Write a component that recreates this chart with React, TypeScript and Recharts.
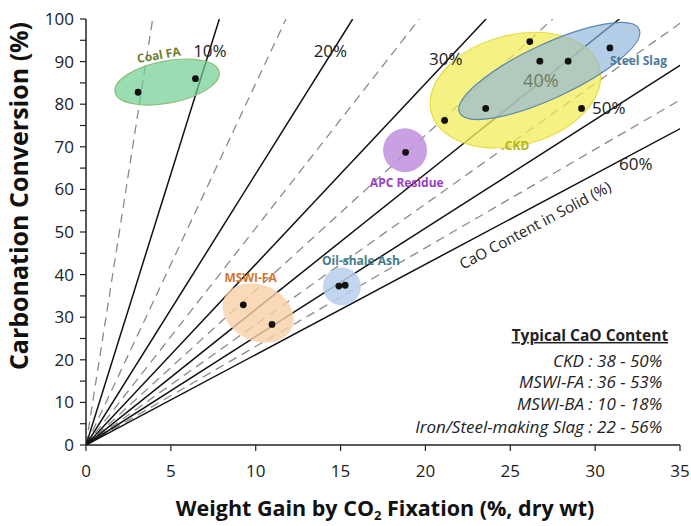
import React from 'react';
import { ComposedChart, Scatter, XAxis, YAxis, ReferenceLine, ReferenceDot } from 'recharts';

// axis ticks
const X_TICKS = [0, 5, 10, 15, 20, 25, 30, 35];
const X_MINOR = [2.5, 7.5, 12.5, 17.5, 22.5, 27.5, 32.5];
const X_ALL = [0, 2.5, 5, 7.5, 10, 12.5, 15, 17.5, 20, 22.5, 25, 27.5, 30, 32.5, 35];
const Y_TICKS = [0, 5, 10, 15, 20, 25, 30, 35, 40, 45, 50, 55, 60, 65, 70, 75, 80, 85, 90, 95, 100];

// CaO content lines (weight gain = CaO * conversion * 44/56)
const CAO_SOLID = [10, 20, 30, 40, 50, 60];
const CAO_DASHED = [5, 15, 25, 35, 45, 55];
const CO2_PER_CAO = 44 / 56;

// measured points
const coalFA = [{ x: 3.07, y: 82.8 }, { x: 6.45, y: 86.0 }];
const ckd = [
  { x: 21.13, y: 76.2 }, { x: 23.55, y: 79.0 }, { x: 26.15, y: 94.7 },
  { x: 26.74, y: 90.1 }, { x: 28.41, y: 90.1 }, { x: 29.2, y: 79.0 },
];
const steelSlag = [{ x: 30.87, y: 93.2 }];
const apcResidue = [{ x: 18.83, y: 68.7 }];
const mswiFA = [{ x: 9.27, y: 32.9 }, { x: 10.96, y: 28.3 }];
const oilShale = [{ x: 14.9, y: 37.3 }, { x: 15.27, y: 37.5 }];

// group regions (centres)
const coalCenter = [{ x: 4.78, y: 85.2 }];
const ckdCenter = [{ x: 25.3, y: 83.3 }];
const steelCenter = [{ x: 27.3, y: 87.8 }];
const apcCenter = [{ x: 18.8, y: 69.2 }];
const mswiCenter = [{ x: 10.14, y: 31.0 }];
const oilCenter = [{ x: 15.08, y: 37.2 }];

const LEGEND_LINES = [
  'CKD : 38 - 50%',
  'MSWI-FA : 36 - 53%',
  'MSWI-BA : 10 - 18%',
  'Iron/Steel-making Slag : 22 - 56%',
];
const LEGEND_Y = [19.4, 14.4, 9.2, 4.0];

const FONT = '"Open Sans", sans-serif';

const ellipse = (s: { rx: number; ry: number; rot: number; fill: string; op: number; stroke?: string }) =>
  (p: any) => (
    <ellipse
      cx={p.cx}
      cy={p.cy}
      rx={s.rx}
      ry={s.ry}
      transform={`rotate(${s.rot} ${p.cx} ${p.cy})`}
      fill={s.fill}
      fillOpacity={s.op}
      stroke={s.stroke || 'none'}
      strokeWidth={1.2}
    />
  );

const dot = (p: any) => <circle cx={p.cx} cy={p.cy} r={3.4} fill="#111" />;

const textAt = (
  text: string,
  o: { size?: number; color?: string; weight?: number | string; rot?: number; anchor?: string; italic?: boolean; underline?: boolean }
) => (p: any) => (
  <text
    x={p.cx}
    y={p.cy}
    fontFamily={FONT}
    fontSize={o.size || 14}
    fill={o.color || '#222'}
    fontWeight={o.weight || 400}
    fontStyle={o.italic ? 'italic' : 'normal'}
    textDecoration={o.underline ? 'underline' : 'none'}
    textAnchor={(o.anchor as any) || 'middle'}
    dominantBaseline="middle"
    transform={o.rot ? `rotate(${o.rot} ${p.cx} ${p.cy})` : undefined}
  >
    {text}
  </text>
);

const Note = ({ x, y, shape }: { x: number; y: number; shape: any }) => (
  <ReferenceDot xAxisId="x" yAxisId="y" x={x} y={y} r={0} shape={shape} ifOverflow="visible" />
);

export default function App() {
  return (
    <div style={{ position: 'absolute', left: 0, top: 0, background: '#fff' }}>
      <ComposedChart
        width={691}
        height={526}
        margin={{ top: 19, right: 11, bottom: 0, left: 0 }}
        style={{ fontFamily: FONT }}
      >
        <XAxis
          xAxisId="xminor"
          type="number"
          orientation="bottom"
          domain={[0, 35]}
          ticks={X_MINOR}
          height={0}
          mirror
          tick={false}
          axisLine={false}
          tickSize={4}
          tickLine={{ stroke: '#222', strokeWidth: 1.2 }}
          allowDataOverflow
        />
        <XAxis
          xAxisId="x"
          type="number"
          dataKey="x"
          domain={[0, 35]}
          ticks={X_TICKS}
          height={81}
          tickSize={6}
          tickMargin={14}
          axisLine={{ stroke: '#222', strokeWidth: 1.5 }}
          tickLine={{ stroke: '#222', strokeWidth: 1.2 }}
          tick={{ fill: '#222', fontSize: 17 }}
          allowDataOverflow
          label={{
            content: () => (
              <text x={385} y={516} textAnchor="middle" fontFamily={FONT} fontSize={21.5} fontWeight={700} fill="#111">
                Weight Gain by CO<tspan fontSize={13} dy={4}>2</tspan>
                <tspan dy={-4}> Fixation (%, dry wt)</tspan>
              </text>
            ),
          }}
        />
        <XAxis
          xAxisId="top"
          type="number"
          orientation="top"
          domain={[0, 35]}
          ticks={X_ALL}
          height={0}
          mirror
          tick={false}
          tickSize={5}
          axisLine={{ stroke: '#222', strokeWidth: 1.5 }}
          tickLine={{ stroke: '#222', strokeWidth: 1.2 }}
          allowDataOverflow
        />
        <YAxis
          yAxisId="y"
          type="number"
          dataKey="y"
          domain={[0, 100]}
          ticks={Y_TICKS}
          width={86}
          tickSize={6}
          tickMargin={6}
          tickFormatter={(v: number) => (v % 10 === 0 ? String(v) : '')}
          axisLine={{ stroke: '#222', strokeWidth: 1.5 }}
          tickLine={{ stroke: '#222', strokeWidth: 1.2 }}
          tick={{ fill: '#222', fontSize: 17 }}
          allowDataOverflow
          label={{
            content: () => (
              <text
                x={21}
                y={196}
                textAnchor="middle"
                dominantBaseline="middle"
                transform="rotate(-90 21 196)"
                fontFamily={FONT}
                fontSize={25}
                fontWeight={700}
                fill="#111"
              >
                Carbonation Conversion (%)
              </text>
            ),
          }}
        />
        <YAxis
          yAxisId="right"
          type="number"
          orientation="right"
          domain={[0, 100]}
          ticks={Y_TICKS}
          width={0}
          mirror
          tick={false}
          tickSize={5}
          axisLine={{ stroke: '#222', strokeWidth: 1.5 }}
          tickLine={{ stroke: '#222', strokeWidth: 1.2 }}
          allowDataOverflow
        />

        {/* group regions */}
        <Scatter xAxisId="x" yAxisId="y" data={coalCenter} isAnimationActive={false}
          shape={ellipse({ rx: 53, ry: 21, rot: -11, fill: '#6fcf93', op: 0.7, stroke: '#8cbf7a' })} />
        <Scatter xAxisId="x" yAxisId="y" data={ckdCenter} isAnimationActive={false}
          shape={ellipse({ rx: 87, ry: 55, rot: -15, fill: '#f2ee5a', op: 0.75, stroke: '#e6dc40' })} />
        <Scatter xAxisId="x" yAxisId="y" data={steelCenter} isAnimationActive={false}
          shape={ellipse({ rx: 99, ry: 27, rot: -25, fill: '#8db3dc', op: 0.65, stroke: '#5d86ad' })} />
        <Scatter xAxisId="x" yAxisId="y" data={apcCenter} isAnimationActive={false}
          shape={ellipse({ rx: 22, ry: 22, rot: 0, fill: '#c08fdc', op: 0.85 })} />
        <Scatter xAxisId="x" yAxisId="y" data={mswiCenter} isAnimationActive={false}
          shape={ellipse({ rx: 37, ry: 28, rot: 25, fill: '#f9cfa8', op: 0.8 })} />
        <Scatter xAxisId="x" yAxisId="y" data={oilCenter} isAnimationActive={false}
          shape={ellipse({ rx: 19, ry: 19, rot: 0, fill: '#b9cfec', op: 0.85 })} />

        {/* CaO content lines */}
        {CAO_DASHED.map((c) => (
          <ReferenceLine
            key={'d' + c}
            xAxisId="x"
            yAxisId="y"
            segment={[{ x: 0, y: 0 }, { x: (c / 100) * CO2_PER_CAO * 100, y: 100 }]}
            stroke="#8a8a8a"
            strokeWidth={1.3}
            strokeDasharray="9 6"
            ifOverflow="hidden"
          />
        ))}
        {CAO_SOLID.map((c) => (
          <ReferenceLine
            key={'s' + c}
            xAxisId="x"
            yAxisId="y"
            segment={[{ x: 0, y: 0 }, { x: (c / 100) * CO2_PER_CAO * 100, y: 100 }]}
            stroke="#111"
            strokeWidth={1.5}
            ifOverflow="hidden"
          />
        ))}

        {/* points */}
        {[coalFA, ckd, steelSlag, apcResidue, mswiFA, oilShale].map((d, i) => (
          <Scatter key={i} xAxisId="x" yAxisId="y" data={d} isAnimationActive={false} shape={dot} />
        ))}

        {/* annotations */}
        <Note x={4.3} y={91.3} shape={textAt('Coal FA', { size: 12, color: '#6f7d2e', weight: 700, rot: -10 })} />
        <Note x={7.3} y={92.1} shape={textAt('10%', { size: 17 })} />
        <Note x={14.4} y={92.1} shape={textAt('20%', { size: 17 })} />
        <Note x={21.2} y={90.3} shape={textAt('30%', { size: 17 })} />
        <Note x={26.8} y={85.2} shape={textAt('40%', { size: 18, color: '#727a62' })} />
        <Note x={30.8} y={78.8} shape={textAt('50%', { size: 17 })} />
        <Note x={32.4} y={65.6} shape={textAt('60%', { size: 17 })} />
        <Note x={32.55} y={89.9} shape={textAt('Steel Slag', { size: 12, color: '#4a7a98', weight: 700 })} />
        <Note x={25.4} y={70.1} shape={textAt('CKD', { size: 12, color: '#b8b21c', weight: 700 })} />
        <Note x={18.9} y={61.2} shape={textAt('APC Residue', { size: 12, color: '#9a3ec6', weight: 700 })} />
        <Note x={9.7} y={39.1} shape={textAt('MSWI-FA', { size: 12, color: '#cf7630', weight: 700 })} />
        <Note x={16.2} y={43.1} shape={textAt('Oil-shale Ash', { size: 12, color: '#3f7d8b', weight: 700 })} />
        <Note x={26.5} y={51.3} shape={textAt('CaO Content in Solid (%)', { size: 15, rot: -28 })} />

        <Note x={34.3} y={25.4} shape={textAt('Typical CaO Content', { size: 15.5, weight: 700, anchor: 'end', underline: true })} />
        {LEGEND_LINES.map((t, i) => (
          <Note key={t} x={33.95} y={LEGEND_Y[i]} shape={textAt(t, { size: 17, italic: true, anchor: 'end' })} />
        ))}
      </ComposedChart>
    </div>
  );
}
